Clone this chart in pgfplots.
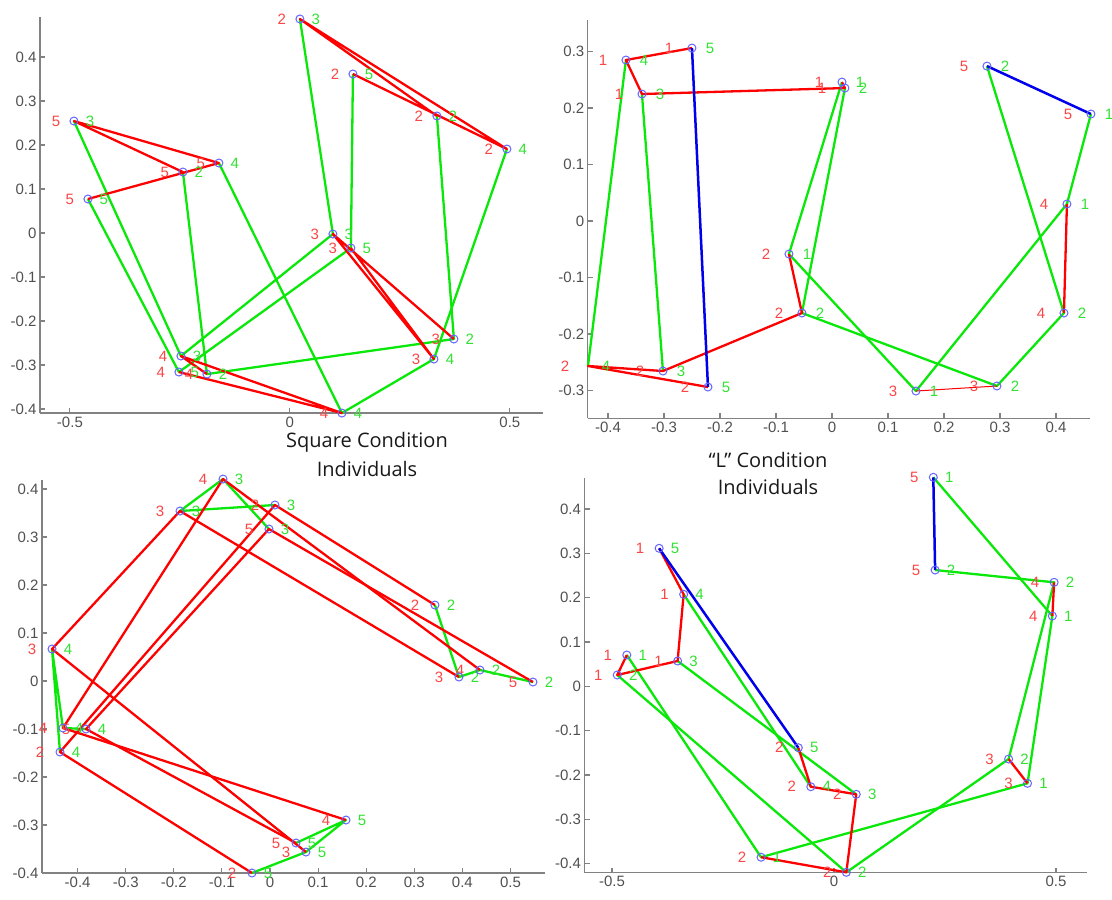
\documentclass[border=0pt]{standalone}
\usepackage{pgfplots}
\pgfplotsset{compat=1.18}
\usepackage{pgfplotstable}
\usepackage{fontspec}
\setmainfont{Liberation Sans}
\newfontfamily\titlefont{Open Sans}
\definecolor{lgreen}{RGB}{10,232,10}
\definecolor{lred}{RGB}{255,0,0}
\definecolor{lblue}{RGB}{0,0,235}
\definecolor{cblue}{RGB}{100,100,255}
\definecolor{tred}{RGB}{250,70,70}
\definecolor{tgreen}{RGB}{50,225,50}
\definecolor{axgray}{RGB}{130,130,130}
\definecolor{txgray}{RGB}{80,80,80}

\pgfplotsset{
 panel/.style={
  scale only axis, clip=false, anchor=south west,
  axis lines*=left,
  axis line style={draw=axgray, line width=1.3pt, -},
  every tick/.style={draw=axgray, line width=1.1pt},
  tick align=inside, major tick length=5pt,
  tick label style={font=\fontsize{15}{15}\selectfont, text=txgray},
  /pgf/number format/assume math mode=true,
 },
 rlab/.style={draw=none, mark=none, nodes near coords, point meta=explicit symbolic,
   nodes near coords align={center},
   every node near coord/.append style={text=tred, font=\fontsize{15}{15}\selectfont, xshift=#1}},
 glab/.style={draw=none, mark=none, nodes near coords, point meta=explicit symbolic,
   nodes near coords align={center},
   every node near coord/.append style={text=tgreen, font=\fontsize{15}{15}\selectfont, xshift=#1}},
 gl/.style={draw=lgreen, line width=2.3pt, mark=none, line join=round},
 rl/.style={draw=lred, line width=2.3pt, mark=none, line join=round},
 bl/.style={draw=lblue, line width=2.5pt, mark=none, line join=round},
 circ/.style={only marks, mark=o, mark size=4pt, mark options={draw=cblue, line width=1pt}},
}

\pgfplotstableread{
x y r g
0.0227 0.4864 2 3
0.1432 0.3614 2 5
0.3341 0.2659 2 2
0.4932 0.1909 2 4
-0.4909 0.2545 5 3
-0.1614 0.1591 5 4
-0.2432 0.1386 5 2
-0.4591 0.0773 5 5
0.0977 -0.0023 3 3
0.1386 -0.0341 3 5
0.3727 -0.2409 3 2
0.3273 -0.2864 3 4
0.1182 -0.4091 4 4
-0.2477 -0.2795 4 3
-0.2523 -0.3159 4 5
-0.1886 -0.3205 4 2
}\ptsA

\pgfplotstableread{
x y r g
-0.3679 0.2850 1 4
-0.2500 0.3062 1 5
-0.3393 0.2248 1 3
0.0179 0.2460 1 1
0.0232 0.2354 1 2
-0.0768 -0.0584 2 1
-0.0536 -0.1628 2 2
-0.3018 -0.2655 2 3
-0.4357 -0.2566 2 4
-0.2214 -0.2938 2 5
0.1500 -0.3009 3 1
0.2946 -0.2920 3 2
0.4196 0.0301 4 1
0.4143 -0.1628 4 2
0.2768 0.2743 5 2
0.4625 0.1894 5 1
}\ptsB

\pgfplotstableread{
x y r g
-0.0977 0.4208 4 3
-0.1871 0.3542 3 3
0.0104 0.3667 2 3
-0.0021 0.3167 5 3
-0.4532 0.0667 3 4
0.3430 0.1583 2 2
0.3929 0.0083 3 2
0.4366 0.0229 4 2
0.5468 -0.0021 5 2
-0.4304 -0.0979 4 4
-0.3825 -0.1000 5 4
-0.4366 -0.1479 2 4
0.1580 -0.2896 4 5
0.0541 -0.3375 5 5
0.0748 -0.3563 3 5
-0.0374 -0.4000 2 5
}\ptsC

\pgfplotstableread{
x y r g
0.2236 0.4715 5 1
0.2277 0.2623 5 2
0.4957 0.2346 4 2
0.4917 0.1586 4 1
0.3932 -0.1640 3 2
0.4358 -0.2188 3 1
-0.3939 0.3113 1 5
-0.3387 0.2075 1 4
-0.3523 0.0571 1 3
-0.4667 0.0706 1 1
-0.4883 0.0255 1 2
-0.0804 -0.1385 2 5
-0.0523 -0.2265 2 4
0.0500 -0.2436 2 3
-0.1644 -0.3855 2 1
0.0277 -0.4196 2 2
}\ptsD

\begin{document}
\begin{tikzpicture}
\useasboundingbox (0pt,0pt) rectangle (1112pt,-900pt);

% ---------- Panel 1 (top left) ----------
\begin{axis}[panel, at={(40pt,-413pt)},
  width=502.9pt, height=395.6pt,
  xmin=-0.568, xmax=0.575, ymin=-0.409, ymax=0.49,
  xtick={-0.5,0,0.5}, ytick={-0.4,-0.3,-0.2,-0.1,0,0.1,0.2,0.3,0.4}]
\addplot[rlab=-18pt] table[meta=r] {\ptsA};
\addplot[glab=16pt] table[meta=g] {\ptsA};
\addplot[gl] coordinates {(0.3341,0.2659) (0.3727,-0.2409) (-0.1886,-0.3205) (-0.2432,0.1386)};
\addplot[gl] coordinates {(0.0227,0.4864) (0.0977,-0.0023) (-0.2477,-0.2795) (-0.4909,0.2545)};
\addplot[gl] coordinates {(0.4932,0.1909) (0.3273,-0.2864) (0.1182,-0.4091) (-0.1614,0.1591)};
\addplot[gl] coordinates {(0.1432,0.3614) (0.1386,-0.0341) (-0.2523,-0.3159) (-0.4591,0.0773)};
\addplot[rl] coordinates {(0.3341,0.2659) (0.0227,0.4864) (0.4932,0.1909) (0.1432,0.3614)};
\addplot[rl] coordinates {(0.3727,-0.2409) (0.0977,-0.0023) (0.3273,-0.2864) (0.1386,-0.0341)};
\addplot[rl] coordinates {(-0.1886,-0.3205) (-0.2477,-0.2795) (0.1182,-0.4091) (-0.2523,-0.3159)};
\addplot[rl] coordinates {(-0.2432,0.1386) (-0.4909,0.2545) (-0.1614,0.1591) (-0.4591,0.0773)};
\addplot[circ] table {\ptsA};
\end{axis}

% ---------- Panel 2 (top right) ----------
\begin{axis}[panel, at={(587.8pt,-418.2pt)},
  width=502.3pt, height=398.3pt,
  xmin=-0.436, xmax=0.461, ymin=-0.349, ymax=0.356,
  xtick={-0.4,-0.3,-0.2,-0.1,0,0.1,0.2,0.3,0.4}, ytick={-0.3,-0.2,-0.1,0,0.1,0.2,0.3}]
\addplot[rlab=-23pt] table[meta=r] {\ptsB};
\addplot[glab=18pt] table[meta=g] {\ptsB};
\addplot[gl] coordinates {(0.0179,0.2460) (-0.0768,-0.0584) (0.1500,-0.3009) (0.4196,0.0301) (0.4625,0.1894)};
\addplot[gl] coordinates {(0.0232,0.2354) (-0.0536,-0.1628) (0.2946,-0.2920) (0.4143,-0.1628) (0.2768,0.2743)};
\addplot[gl] coordinates {(-0.3393,0.2248) (-0.3018,-0.2655)};
\addplot[gl] coordinates {(-0.3679,0.2850) (-0.4357,-0.2566)};
\addplot[rl] coordinates {(0.0179,0.2460) (0.0232,0.2354) (-0.3393,0.2248) (-0.3679,0.2850) (-0.2500,0.3062)};
\addplot[rl] coordinates {(-0.0768,-0.0584) (-0.0536,-0.1628) (-0.3018,-0.2655) (-0.4357,-0.2566) (-0.2214,-0.2938)};
\addplot[rl, line width=1pt] coordinates {(0.1500,-0.3009) (0.2946,-0.2920)};
\addplot[rl] coordinates {(0.4196,0.0301) (0.4143,-0.1628)};
\addplot[bl] coordinates {(0.2768,0.2743) (0.4625,0.1894)};
\addplot[bl] coordinates {(-0.2500,0.3062) (-0.2214,-0.2938)};
\addplot[circ, restrict x to domain=-0.43:0.5] table {\ptsB};
\end{axis}

% ---------- Panel 3 (bottom left) ----------
\begin{axis}[panel, at={(42pt,-873pt)},
  width=503.1pt, height=393.1pt,
  xmin=-0.474, xmax=0.572, ymin=-0.4, ymax=0.419,
  xtick={-0.4,-0.3,-0.2,-0.1,0,0.1,0.2,0.3,0.4,0.5}, ytick={-0.4,-0.3,-0.2,-0.1,0,0.1,0.2,0.3,0.4}]
\addplot[rlab=-20pt] table[meta=r] {\ptsC};
\addplot[glab=16pt] table[meta=g] {\ptsC};
\addplot[gl] coordinates {(0.3430,0.1583) (0.3929,0.0083) (0.4366,0.0229) (0.5468,-0.0021)};
\addplot[gl] coordinates {(0.0104,0.3667) (-0.1871,0.3542) (-0.0977,0.4208) (-0.0021,0.3167)};
\addplot[gl] coordinates {(-0.4366,-0.1479) (-0.4532,0.0667) (-0.4304,-0.0979) (-0.3825,-0.1000)};
\addplot[gl] coordinates {(-0.0374,-0.4000) (0.0748,-0.3563) (0.1580,-0.2896) (0.0541,-0.3375)};
\addplot[rl] coordinates {(0.3430,0.1583) (0.0104,0.3667) (-0.4366,-0.1479) (-0.0374,-0.4000)};
\addplot[rl] coordinates {(0.3929,0.0083) (-0.1871,0.3542) (-0.4532,0.0667) (0.0748,-0.3563)};
\addplot[rl] coordinates {(0.4366,0.0229) (-0.0977,0.4208) (-0.4304,-0.0979) (0.1580,-0.2896)};
\addplot[rl] coordinates {(0.5468,-0.0021) (-0.0021,0.3167) (-0.3825,-0.1000) (0.0541,-0.3375)};
\addplot[circ] table {\ptsC};
\end{axis}

% ---------- Panel 4 (bottom right) ----------
\begin{axis}[panel, at={(584.5pt,-872.5pt)},
  width=502.6pt, height=394.1pt,
  xmin=-0.562, xmax=0.570, ymin=-0.42, ymax=0.469,
  xtick={-0.5,0,0.5}, ytick={-0.4,-0.3,-0.2,-0.1,0,0.1,0.2,0.3,0.4}]
\addplot[rlab=-19pt] table[meta=r] {\ptsD};
\addplot[glab=16pt] table[meta=g] {\ptsD};
\addplot[gl] coordinates {(-0.4667,0.0706) (-0.1644,-0.3855) (0.4358,-0.2188) (0.4917,0.1586) (0.2236,0.4715)};
\addplot[gl] coordinates {(-0.4883,0.0255) (0.0277,-0.4196) (0.3932,-0.1640) (0.4957,0.2346) (0.2277,0.2623)};
\addplot[gl] coordinates {(-0.3523,0.0571) (0.0500,-0.2436)};
\addplot[gl] coordinates {(-0.3387,0.2075) (-0.0523,-0.2265)};
\addplot[rl] coordinates {(-0.4667,0.0706) (-0.4883,0.0255) (-0.3523,0.0571) (-0.3387,0.2075) (-0.3939,0.3113)};
\addplot[rl] coordinates {(-0.1644,-0.3855) (0.0277,-0.4196) (0.0500,-0.2436) (-0.0523,-0.2265) (-0.0804,-0.1385)};
\addplot[rl] coordinates {(0.4358,-0.2188) (0.3932,-0.1640)};
\addplot[rl] coordinates {(0.4917,0.1586) (0.4957,0.2346)};
\addplot[bl] coordinates {(0.2236,0.4715) (0.2277,0.2623)};
\addplot[bl] coordinates {(-0.3939,0.3113) (-0.0804,-0.1385)};
\addplot[circ] table {\ptsD};
\end{axis}

\node[font=\titlefont\fontsize{20}{20}\selectfont, text=black!90] at (367pt,-442pt) {Square Condition};
\node[font=\titlefont\fontsize{20}{20}\selectfont, text=black!90] at (367pt,-469pt) {Individuals};
\node[font=\titlefont\fontsize{20}{20}\selectfont, text=black!90] at (768pt,-460pt) {“L” Condition};
\node[font=\titlefont\fontsize{20}{20}\selectfont, text=black!90] at (768pt,-487pt) {Individuals};
\end{tikzpicture}
\end{document}
